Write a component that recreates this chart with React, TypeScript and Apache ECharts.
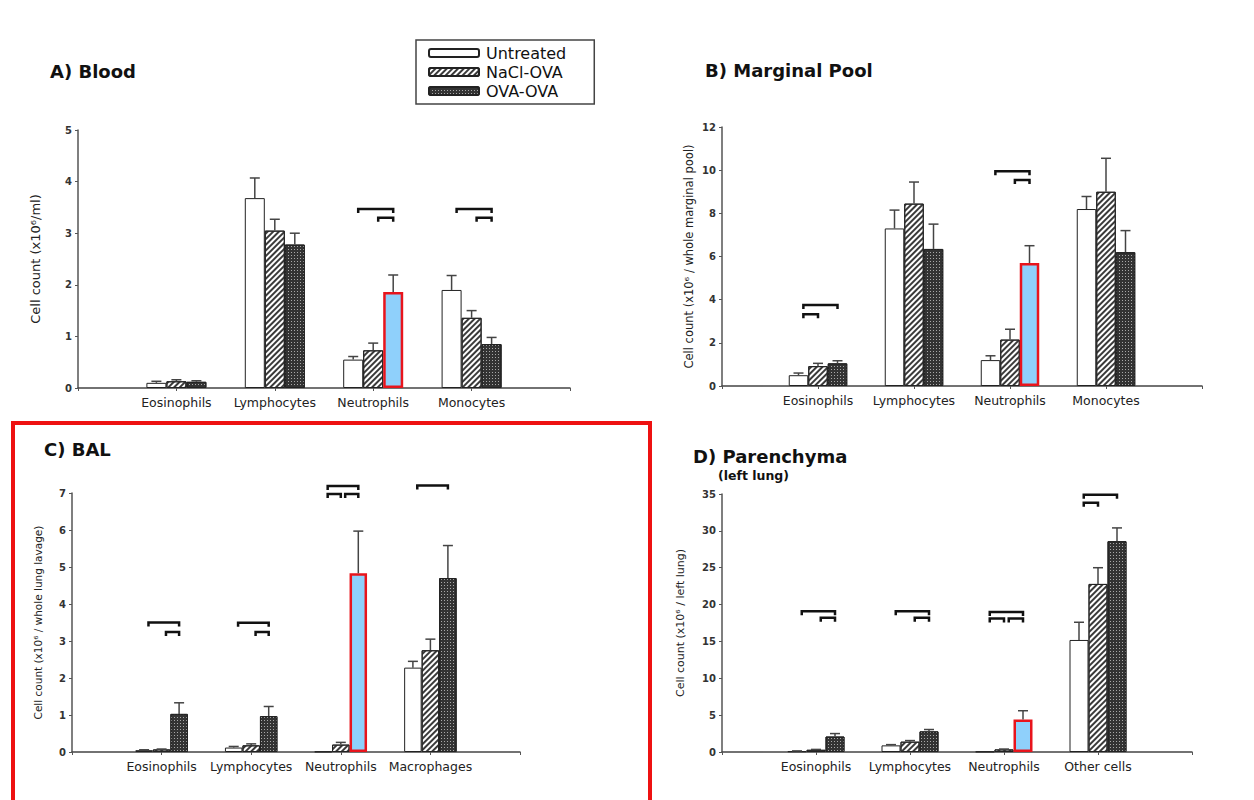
import React, { useEffect, useRef } from "react";
import * as echarts from "echarts";

const groupNames = ["Untreated", "NaCl-OVA", "OVA-OVA"];
const highlightCategory = "Neutrophils";
const highlightGroup = "OVA-OVA";

// A) Blood
const categoriesA = ["Eosinophils", "Lymphocytes", "Neutrophils", "Monocytes"];
const untreatedA = [0.1, 3.68, 0.55, 1.9];
const untreatedSemA = [0.03, 0.39, 0.06, 0.28];
const naclA = [0.13, 3.05, 0.73, 1.36];
const naclSemA = [0.03, 0.22, 0.14, 0.14];
const ovaA = [0.12, 2.78, 1.86, 0.85];
const ovaSemA = [0.02, 0.22, 0.33, 0.13];
// [category index, from group, to group, level]
const bracketsA = [
  [2, 0, 2, 3.47],
  [2, 1, 2, 3.3],
  [3, 0, 2, 3.47],
  [3, 1, 2, 3.3],
];

// B) Marginal Pool
const categoriesB = ["Eosinophils", "Lymphocytes", "Neutrophils", "Monocytes"];
const untreatedB = [0.5, 7.3, 1.2, 8.2];
const untreatedSemB = [0.1, 0.85, 0.2, 0.58];
const naclB = [0.92, 8.45, 2.15, 9.0];
const naclSemB = [0.13, 1.0, 0.48, 1.55];
const ovaB = [1.05, 6.35, 5.7, 6.2];
const ovaSemB = [0.12, 1.15, 0.8, 1.0];
const bracketsB = [
  [0, 0, 2, 3.75],
  [0, 0, 1, 3.33],
  [2, 0, 2, 9.95],
  [2, 1, 2, 9.55],
];

// C) BAL
const categoriesC = ["Eosinophils", "Lymphocytes", "Neutrophils", "Macrophages"];
const untreatedC = [0.05, 0.12, 0.01, 2.28];
const untreatedSemC = [0.01, 0.03, 0, 0.17];
const naclC = [0.07, 0.18, 0.2, 2.75];
const naclSemC = [0.01, 0.04, 0.06, 0.3];
const ovaC = [1.03, 0.97, 4.83, 4.7];
const ovaSemC = [0.3, 0.26, 1.14, 0.88];
const bracketsC = [
  [0, 0, 2, 3.5],
  [0, 1, 2, 3.24],
  [1, 0, 2, 3.49],
  [1, 1, 2, 3.24],
  [2, 0, 2, 7.19],
  [2, 0, 1, 6.97],
  [2, 1, 2, 6.97],
  [3, 0, 2, 7.2],
];

// D) Parenchyma (left lung)
const categoriesD = ["Eosinophils", "Lymphocytes", "Neutrophils", "Other cells"];
const untreatedD = [0.1, 0.9, 0.05, 15.2];
const untreatedSemD = [0.05, 0.1, 0, 2.4];
const naclD = [0.3, 1.4, 0.35, 22.8];
const naclSemD = [0.05, 0.15, 0.05, 2.2];
const ovaD = [2.1, 2.8, 4.4, 28.6];
const ovaSemD = [0.4, 0.25, 1.2, 1.8];
const bracketsD = [
  [0, 0, 2, 19.1],
  [0, 1, 2, 18.2],
  [1, 0, 2, 19.1],
  [1, 1, 2, 18.2],
  [2, 0, 2, 19.0],
  [2, 0, 1, 18.1],
  [2, 1, 2, 18.1],
  [3, 0, 2, 34.9],
  [3, 0, 1, 33.8],
];

const FONT = "'DejaVu Sans', 'Liberation Sans', Arial, sans-serif";

const panels = [
  {
    title: "A) Blood", titleX: 50, titleY: 71,
    cats: categoriesA, values: [untreatedA, naclA, ovaA], sems: [untreatedSemA, naclSemA, ovaSemA],
    brackets: bracketsA, max: 5, interval: 1,
    yName: "Cell count (x10\u2076/ml)", nameGap: 36, nameSize: 13,
    grid: { left: 78, top: 130, width: 492, height: 258 }, barWidth: 20,
  },
  {
    title: "B) Marginal Pool", titleX: 705, titleY: 70,
    cats: categoriesB, values: [untreatedB, naclB, ovaB], sems: [untreatedSemB, naclSemB, ovaSemB],
    brackets: bracketsB, max: 12, interval: 2,
    yName: "Cell count (x10\u2076 / whole marginal pool)", nameGap: 27, nameSize: 11.5,
    grid: { left: 722, top: 127, width: 480, height: 259 }, barWidth: 19.5,
  },
  {
    title: "C) BAL", titleX: 44, titleY: 449,
    cats: categoriesC, values: [untreatedC, naclC, ovaC], sems: [untreatedSemC, naclSemC, ovaSemC],
    brackets: bracketsC, max: 7, interval: 1,
    yName: "Cell count (x10\u2076 / whole lung lavage)", nameGap: 29, nameSize: 10.5,
    grid: { left: 72, top: 493, width: 448, height: 259 }, barWidth: 17.5,
  },
  {
    title: "D) Parenchyma", titleX: 693, titleY: 456,
    cats: categoriesD, values: [untreatedD, naclD, ovaD], sems: [untreatedSemD, naclSemD, ovaSemD],
    brackets: bracketsD, max: 35, interval: 5,
    yName: "Cell count (x10\u2076 / left lung)", nameGap: 36, nameSize: 11,
    grid: { left: 722, top: 494, width: 470, height: 258 }, barWidth: 19,
  },
];

const groupStyles: any[] = [
  { color: "#ffffff", borderColor: "#222", borderWidth: 1 },
  {
    color: "#ffffff", borderColor: "#222", borderWidth: 1,
    decal: { symbol: "rect", symbolSize: 1, color: "#3a3a3a", dashArrayX: [1, 0], dashArrayY: [1.5, 2], rotation: -Math.PI / 4 },
  },
  {
    color: "#333333", borderColor: "#222", borderWidth: 1,
    decal: { symbol: "rect", symbolSize: 1, color: "#a8a8a8", dashArrayX: [1, 2], dashArrayY: [1, 2], rotation: 0 },
  },
];

const highlightStyle = { color: "#8fd0fb", borderColor: "#e8141c", borderWidth: 2.5, decal: "none" };

function buildOption() {
  const grid: any[] = [];
  const xAxis: any[] = [];
  const yAxis: any[] = [];
  const series: any[] = [];
  const graphic: any[] = [];

  panels.forEach((p, i) => {
    grid.push({ ...p.grid });
    const padded = ["", ...p.cats, ""];
    xAxis.push({
      type: "category", gridIndex: i, data: padded, boundaryGap: false,
      axisLine: { lineStyle: { color: "#444", width: 1.5 } },
      axisTick: { show: true, length: 3, lineStyle: { color: "#555" } },
      axisLabel: { fontFamily: FONT, fontSize: 12.5, color: "#222", margin: 8, interval: 0 },
      splitLine: { show: false },
    });
    yAxis.push({
      type: "value", gridIndex: i, min: 0, max: p.max, interval: p.interval,
      axisLine: { show: true, lineStyle: { color: "#555", width: 1.5 } },
      axisTick: { show: true, length: 3, lineStyle: { color: "#555" } },
      axisLabel: { fontFamily: FONT, fontSize: 10, fontWeight: "bold", color: "#333", margin: 6 },
      splitLine: { show: false },
      name: p.yName, nameLocation: "middle", nameRotate: 90, nameGap: p.nameGap,
      nameTextStyle: { fontFamily: FONT, fontSize: p.nameSize, color: "#222" },
    });

    const bw = p.barWidth;
    groupNames.forEach((g, k) => {
      series.push({
        type: "bar", name: g, xAxisIndex: i, yAxisIndex: i, barWidth: bw, barGap: "0%",
        itemStyle: groupStyles[k],
        data: padded.map((c, j) => {
          if (j === 0 || j === padded.length - 1) return "-";
          const v = p.values[k][j - 1];
          if (c === highlightCategory && g === highlightGroup) {
            return { value: v, itemStyle: highlightStyle };
          }
          return v;
        }),
      });
    });

    const errData: number[][] = [];
    groupNames.forEach((g, k) => {
      p.cats.forEach((c, j) => {
        errData.push([j + 1, p.values[k][j], p.values[k][j] + p.sems[k][j], k]);
      });
    });
    series.push({
      type: "custom", xAxisIndex: i, yAxisIndex: i, z: 3,
      encode: { x: 0, y: [1, 2] },
      data: errData,
      renderItem: (params: any, api: any) => {
        const x = api.value(0), v = api.value(1), top = api.value(2), k = api.value(3);
        if (!(top > v)) return null;
        const p0 = api.coord([x, v]);
        const p1 = api.coord([x, top]);
        const cx = p0[0] + (k - 1) * bw;
        return {
          type: "group",
          children: [
            { type: "line", shape: { x1: cx, y1: p0[1], x2: cx, y2: p1[1] }, style: { stroke: "#444", lineWidth: 1.5 } },
            { type: "line", shape: { x1: cx - 5, y1: p1[1], x2: cx + 5, y2: p1[1] }, style: { stroke: "#444", lineWidth: 1.5 } },
          ],
        };
      },
    });

    series.push({
      type: "custom", xAxisIndex: i, yAxisIndex: i, z: 4,
      encode: { x: 0, y: 3 },
      data: p.brackets.map((b) => [b[0] + 1, b[1], b[2], b[3]]),
      renderItem: (params: any, api: any) => {
        const c = api.coord([api.value(0), api.value(3)]);
        const x1 = c[0] + (api.value(1) - 1) * bw + 0.25 * bw;
        const x2 = c[0] + (api.value(2) - 1) * bw;
        const y = c[1];
        return {
          type: "polyline",
          shape: { points: [[x1, y + 4], [x1, y], [x2, y], [x2, y + 4]] },
          style: { stroke: "#111", lineWidth: 2.5, fill: null },
        };
      },
    });

    graphic.push({
      type: "text", x: p.titleX, y: p.titleY,
      style: { text: p.title, font: `bold 18px ${FONT}`, fill: "#111", verticalAlign: "middle" },
    });
  });

  graphic.push({
    type: "text", x: 718, y: 475,
    style: { text: "(left lung)", font: `bold 12.5px ${FONT}`, fill: "#111", verticalAlign: "middle" },
  });
  graphic.push({
    type: "rect", shape: { x: 13, y: 423, width: 637, height: 400 },
    style: { stroke: "#ee1111", lineWidth: 4, fill: "none" }, z: 10,
  });

  return {
    animation: false,
    backgroundColor: "#ffffff",
    grid,
    xAxis,
    yAxis,
    series,
    graphic,
    legend: {
      data: groupNames, orient: "vertical", left: 416, top: 40,
      itemWidth: 50, itemHeight: 8, itemGap: 3,
      padding: [5, 28, 5, 12],
      borderColor: "#444", borderWidth: 1.5,
      textStyle: { fontFamily: FONT, fontSize: 16, color: "#111", padding: [0, 0, 0, 2] },
      selectedMode: false,
    },
  };
}

export default function App() {
  const ref = useRef<HTMLDivElement>(null);
  useEffect(() => {
    document.body.style.margin = "0";
    if (!ref.current) return;
    const chart = echarts.init(ref.current, undefined, { renderer: "svg" });
    chart.setOption(buildOption() as any);
    return () => chart.dispose();
  }, []);
  return <div ref={ref} style={{ width: 1254, height: 800 }} />;
}
